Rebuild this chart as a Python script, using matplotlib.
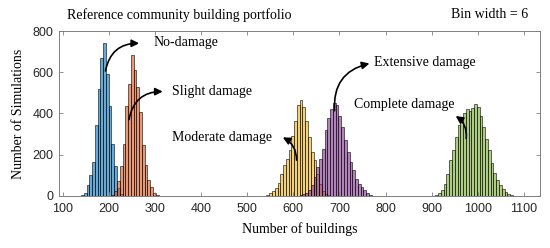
import matplotlib.pyplot as plt
import matplotlib.colors as mcolors
import numpy as np

# bin width 6, each series given as first bin edge + counts per bin
bin_width = 6

nodamage_start = 134
nodamage = [2, 5, 15, 55, 100, 165, 345, 520, 670, 740, 590, 435, 250, 145, 40, 8]

slight_start = 206
slight = [5, 25, 70, 145, 250, 435, 545, 685, 610, 530, 405, 245, 150, 75, 42, 15, 4]

moderate_start = 536
moderate = [2, 5, 12, 22, 40, 65, 105, 150, 180, 225, 290, 365, 440, 465, 430, 365,
            285, 215, 175, 105, 58, 22, 8, 3]

extensive_start = 614
extensive = [3, 8, 15, 30, 55, 90, 140, 180, 230, 320, 380, 420, 450, 440, 390, 335,
             270, 215, 165, 125, 82, 58, 42, 28, 15, 6, 2]

complete_start = 902
complete = [2, 5, 12, 30, 60, 108, 172, 222, 285, 345, 385, 400, 420, 410, 425, 445,
            430, 390, 335, 278, 222, 158, 110, 78, 52, 35, 20, 10, 4, 1]

series = [
    (nodamage_start, nodamage, (0, 0.447, 0.741)),
    (slight_start, slight, (0.85, 0.325, 0.098)),
    (moderate_start, moderate, (0.929, 0.694, 0.125)),
    (extensive_start, extensive, (0.494, 0.184, 0.556)),
    (complete_start, complete, (0.466, 0.674, 0.188)),
]

# label text, arrow tail (on bars), arrow head, text anchor, curvature
labels = [
    ("No-damage", (192, 593), (272, 740), (297, 745), -0.45),
    ("Slight damage", (243, 357), (323, 506), (337, 508), -0.45),
    ("Moderate damage", (607, 160), (572, 290), (337, 285), 0.35),
    ("Extensive damage", (690, 400), (771, 645), (776, 648), -0.45),
    ("Complete damage", (974, 265), (947, 395), (731, 445), 0.35),
]

serif = ['Liberation Serif', 'DejaVu Serif']
sans = ['Liberation Sans', 'DejaVu Sans']

fig = plt.figure(figsize=(5.5, 2.48), dpi=100)
ax = fig.add_axes([0.107, 0.21, 0.875, 0.665])

for start, counts, col in series:
    edges = start + bin_width * np.arange(len(counts))
    ax.bar(edges, counts, width=bin_width, align='edge',
           facecolor=mcolors.to_rgba(col, 0.6), edgecolor='k', linewidth=0.4)

for txt, tail, head, tpos, rad in labels:
    ax.annotate('', xy=head, xytext=tail,
                arrowprops=dict(arrowstyle='-|>', color='k', lw=1.2,
                                mutation_scale=11,
                                connectionstyle='arc3,rad=%s' % rad))
    ax.text(tpos[0], tpos[1], txt, fontsize=10, family=serif,
            ha='left', va='center')

ax.set_xlim(92, 1135)
ax.set_ylim(0, 800)
ax.set_xticks(np.arange(100, 1101, 100))
ax.set_yticks([0, 200, 400, 600, 800])
ax.tick_params(direction='in', length=3, width=0.6, top=True, right=True,
               labelsize=9, colors='#7f7f7f', labelcolor='#262626')
ax.tick_params(axis='x', pad=5)
ax.tick_params(axis='y', pad=4)
for lab in ax.get_xticklabels() + ax.get_yticklabels():
    lab.set_family(sans)
for sp in ax.spines.values():
    sp.set_color('#7f7f7f')
    sp.set_linewidth(0.7)

ax.set_xlabel('Number of buildings', fontsize=10, family=serif, labelpad=5)
ax.set_ylabel('Number of Simulations', fontsize=10, family=serif, labelpad=5)

fig.text(67 / 550, 1 - 15 / 248, 'Reference community building portfolio',
         fontsize=10, family=serif, ha='left', va='center')
fig.text(528 / 550, 1 - 15 / 248, 'Bin width = 6',
         fontsize=10, family=serif, ha='right', va='center')

fig.savefig('out.png', dpi=100)
